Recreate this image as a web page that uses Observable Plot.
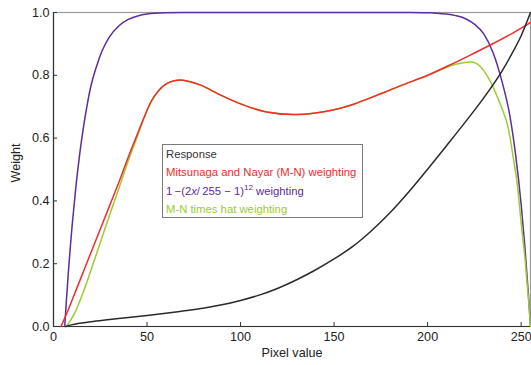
<!DOCTYPE html>
<html><head><meta charset="utf-8">
<script src="https://cdn.jsdelivr.net/npm/d3@7"></script>
<script src="https://cdn.jsdelivr.net/npm/@observablehq/plot@0.6"></script>
<style>
body{margin:0;background:#fff;}
#wrap{position:relative;width:531px;height:365px;font-family:"Liberation Sans",Arial,Helvetica,sans-serif;}
#legend{position:absolute;left:162px;top:144px;width:196px;height:72px;border:1px solid #7a7a7a;background:#fff;font-size:11.3px;line-height:18.3px;padding:0 0 0 3px;white-space:nowrap;}
#legend div{height:18.3px;}
#legend sup{font-size:8px;vertical-align:0;position:relative;top:-4.5px;}
</style>
</head><body>
<div id="wrap"></div>
<script>
// Series names and colours
const seriesNames = ["Response", "Mitsunaga and Nayar (M-N) weighting", "hat", "M-N times hat weighting"];
const seriesColors = ["#2a2a2a", "#f22b2b", "#5b2d9e", "#9ccc2e"];

// Response curve
const respX = [6.5,10,20,30,40,50,60,70,80,90,100,110,120,130,140,150,160,170,180,190,200,210,220,230,240,245,250,255];
const respY = [0,.006,.015,.022,.029,.035,.042,.05,.058,.069,.083,.100,.122,.149,.180,.215,.255,.305,.363,.429,.501,.575,.65,.728,.816,.868,.926,1.0];

// Mitsunaga and Nayar weighting
const mnX = [4,8,12,16,20,25,30,35,40,44,48,52,56,60,64,68,72,79,88,100,114,128,140,150,160,168,177,186,200,212,222,234,245,255];
const mnY = [0,.055,.115,.175,.235,.31,.385,.46,.54,.60,.66,.715,.75,.772,.782,.785,.781,.768,.741,.709,.683,.675,.68,.69,.707,.725,.746,.768,.80,.833,.862,.898,.933,.968];

// 1-(2x/255-1)^12 weighting
const hatX = [6,7,8,9,10,12,14,16,18,20,23,26,30,35,40,45,50,60,70,130,190,200,205,210,215,220,225,230,235,240,244,247,250,252,254,255];
const hatY = [0,.092,.177,.254,.324,.447,.549,.634,.706,.766,.828,.878,.923,.958,.978,.989,.995,.999,1,1,1,.999,.998,.995,.99,.981,.963,.932,.872,.775,.67,.549,.389,.254,.092,0];

// M-N times hat weighting
const mnHatX = [7,8,10,12,14,16,18,20,23,26,30,35,40,45,50,56,60,64,68,72,79,88,100,114,128,140,150,160,168,177,186,200,205,210,215,220,223,226,230,234,237,240,243,246,248,250,252,254,255];
const mnHatY = [0,.01,.028,.051,.08,.111,.144,.179,.232,.285,.355,.441,.528,.608,.687,.749,.771,.782,.785,.781,.768,.741,.709,.683,.675,.68,.69,.707,.725,.746,.768,.799,.812,.825,.835,.841,.842,.838,.815,.775,.735,.69,.635,.53,.45,.33,.22,.08,0];

// Ticks
const xTicks = [0,50,100,150,200,250];
const yTicks = [0,0.2,0.4,0.6,0.8,1.0];

// drawing order: hat, M-N times hat, M-N, response
const rows = [];
[[hatX,hatY,2],[mnHatX,mnHatY,3],[mnX,mnY,1],[respX,respY,0]].forEach(([xs,ys,i])=>{
  xs.forEach((x,j)=>rows.push({series: seriesNames[i], x, y: ys[j]}));
});

const chart = Plot.plot({
  width: 531, height: 365,
  marginLeft: 53, marginRight: 1, marginTop: 12, marginBottom: 39,
  style: {fontFamily: '"Liberation Sans", Arial, Helvetica, sans-serif', fontSize: "12.6px", color: "#222", background: "#fff"},
  x: {domain: [0,255]},
  y: {domain: [0,1]},
  color: {domain: seriesNames, range: seriesColors},
  marks: [
    Plot.frame({stroke: "#999", strokeWidth: 1.2}),
    Plot.ruleX([0], {stroke: "#333", strokeWidth: 1.2}),
    Plot.ruleY([0], {stroke: "#333", strokeWidth: 1.2}),
    Plot.axisX(xTicks, {tickSize: -4, tickPadding: 10, label: null, stroke: "#333"}),
    Plot.axisY(yTicks, {tickSize: -4, tickPadding: 8, tickFormat: d => d.toFixed(1), label: null, stroke: "#333"}),
    Plot.text(["Pixel value"], {text: d => d, frameAnchor: "bottom", dy: 30}),
    Plot.text(["Weight"], {text: d => d, frameAnchor: "left", dx: -38, dy: 13, rotate: -90}),
    Plot.line(rows, {x: "x", y: "y", z: "series", stroke: "series", curve: "monotone-x", strokeWidth: 1.5})
  ]
});
const wrap = document.getElementById("wrap");
wrap.appendChild(chart);

const legend = document.createElement("div");
legend.id = "legend";
legend.innerHTML =
  `<div style="color:#333">Response</div>` +
  `<div style="color:${seriesColors[1]}">Mitsunaga and Nayar (M-N) weighting</div>` +
  `<div style="color:${seriesColors[2]}">1\u2009\u2212(2<i>x</i>/\u2009255 \u2212 1)<sup>12</sup> weighting</div>` +
  `<div style="color:${seriesColors[3]}">M-N times hat weighting</div>`;
wrap.appendChild(legend);
</script>
</body></html>
